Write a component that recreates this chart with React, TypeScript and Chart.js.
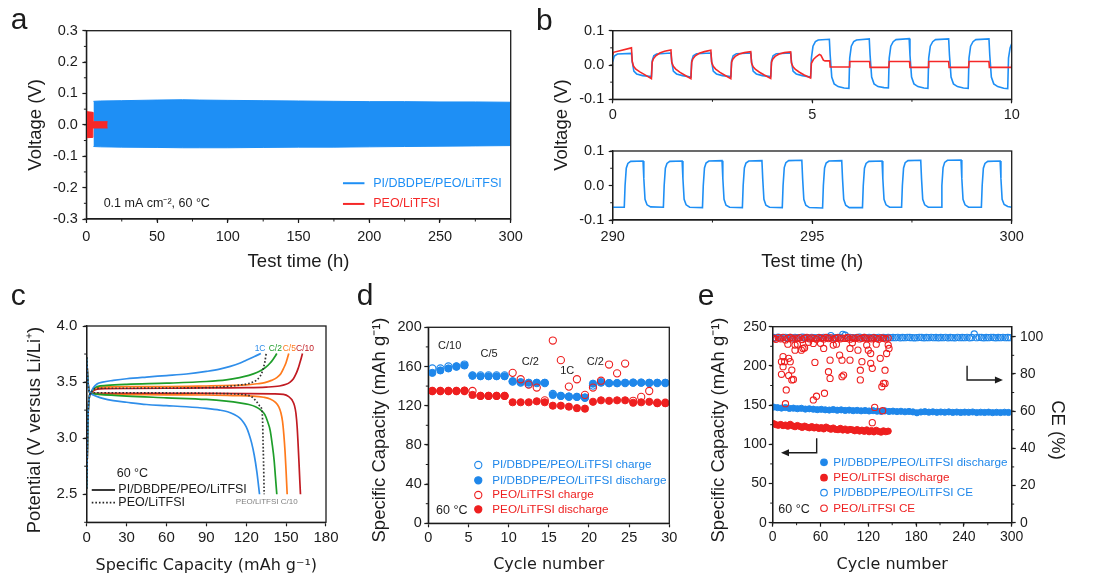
import { useEffect, useRef } from 'react';
import { Chart, registerables } from 'chart.js';

Chart.register(...registerables);

const W = 1093;
const H = 585;
const SANS = '"Liberation Sans", Arial, Helvetica, sans-serif';
const WIDE = '"DejaVu Sans", Verdana, sans-serif';
const INK = '#1c1c1c';
const BLUE = '#1E8FF5';
const RED = '#F52828';
const C_BLUE = '#2F8EEA';
const C_GREEN = '#1E9E2A';
const C_ORANGE = '#FF7A1C';
const C_DARKRED = '#C11B22';
const M_BLUE = '#1F87EA';
const M_RED = '#EE1F1F';

// ================= Panel a: voltage envelope (V) vs test time (h) =================
const aPiTime = [5, 10, 25, 50, 68, 80, 100, 125, 150, 175, 200, 225, 250, 275, 300];
const aPiUpper = [0.075, 0.076, 0.077, 0.079, 0.080, 0.079, 0.078, 0.077, 0.076, 0.075, 0.074, 0.074, 0.073, 0.073, 0.072];
const aPiLower = [-0.069, -0.070, -0.071, -0.072, -0.073, -0.073, -0.073, -0.072, -0.071, -0.071, -0.070, -0.069, -0.068, -0.067, -0.066];
const aPeoTime = [0, 0.3, 4.5, 4.6, 15];
const aPeoUpper = [0.040, 0.042, 0.040, 0.010, 0.010];
const aPeoLower = [-0.040, -0.041, -0.040, -0.010, -0.010];

// ================= Panel b (top): 0-10 h =================
const bTopPiT = [
  0, 0.04, 0.12, 0.47, 0.49, 0.53, 0.6, 0.75, 0.97,
  0.99, 1.03, 1.1, 1.46, 1.48, 1.52, 1.6, 1.75, 1.96,
  1.98, 2.02, 2.1, 2.46, 2.48, 2.52, 2.6, 2.75, 2.96,
  2.98, 3.02, 3.1, 3.46, 3.48, 3.52, 3.6, 3.75, 3.96,
  3.98, 4.02, 4.1, 4.46, 4.48, 4.52, 4.6, 4.75, 4.96,
  4.98, 5.02, 5.08, 5.15, 5.43, 5.45, 5.49, 5.55, 5.65, 5.8, 5.92,
  5.94, 5.98, 6.04, 6.11, 6.43, 6.45, 6.49, 6.55, 6.65, 6.8, 6.91,
  6.93, 6.97, 7.03, 7.1, 7.43, 7.45, 7.49, 7.55, 7.65, 7.8, 7.9,
  7.92, 7.96, 8.02, 8.09, 8.42, 8.44, 8.48, 8.54, 8.64, 8.79, 8.91,
  8.93, 8.97, 9.03, 9.1, 9.43, 9.45, 9.49, 9.55, 9.65, 9.8, 9.9,
  9.92, 9.96, 10,
];
const bTopPiV = [
  0.010, 0.026, 0.032, 0.034, 0.010, -0.018, -0.026, -0.031, -0.034,
  0.012, 0.027, 0.032, 0.035, 0.010, -0.018, -0.026, -0.031, -0.035,
  0.012, 0.027, 0.033, 0.035, 0.010, -0.018, -0.026, -0.031, -0.034,
  0.012, 0.027, 0.033, 0.035, 0.010, -0.018, -0.026, -0.031, -0.034,
  0.012, 0.027, 0.033, 0.035, 0.010, -0.018, -0.026, -0.031, -0.035,
  0.020, 0.055, 0.068, 0.073, 0.075, 0.030, -0.035, -0.055, -0.063, -0.067, -0.068,
  0.020, 0.055, 0.068, 0.073, 0.076, 0.030, -0.035, -0.055, -0.063, -0.066, -0.067,
  0.020, 0.055, 0.068, 0.074, 0.077, 0.030, -0.035, -0.055, -0.063, -0.067, -0.068,
  0.020, 0.055, 0.068, 0.074, 0.076, 0.030, -0.035, -0.055, -0.063, -0.067, -0.068,
  0.020, 0.055, 0.068, 0.074, 0.076, 0.030, -0.035, -0.055, -0.063, -0.068, -0.069,
  0.020, 0.050, 0.062,
];
const bTopPeoT = [
  0, 0.02, 0.47, 0.49, 0.52, 0.58, 0.68, 0.8, 0.97,
  0.99, 1.02, 1.08, 1.18, 1.3, 1.46, 1.48, 1.52, 1.58, 1.68, 1.8, 1.96,
  1.98, 2.01, 2.07, 2.17, 2.3, 2.46, 2.48, 2.52, 2.58, 2.68, 2.8, 2.96,
  2.98, 3.01, 3.07, 3.17, 3.3, 3.46, 3.48, 3.52, 3.58, 3.68, 3.8, 3.96,
  3.98, 4.01, 4.07, 4.17, 4.3, 4.46, 4.48, 4.52, 4.58, 4.68, 4.8, 4.96,
  4.98, 5.03, 5.1, 5.18, 5.22, 5.28, 5.32, 5.44, 5.45, 5.93, 5.94, 6.44, 6.45, 6.92,
  6.93, 7.44, 7.45, 7.91, 7.92, 8.42, 8.43, 8.92, 8.93, 9.43, 9.44, 9.99, 10,
];
const bTopPeoV = [
  0.030, 0.037, 0.050, 0.010, -0.003, -0.012, -0.020, -0.028, -0.040,
  0.008, 0.018, 0.027, 0.035, 0.040, 0.044, 0.008, -0.004, -0.012, -0.021, -0.029, -0.040,
  0.008, 0.018, 0.027, 0.034, 0.039, 0.043, 0.008, -0.004, -0.012, -0.021, -0.029, -0.040,
  0.008, 0.017, 0.025, 0.032, 0.036, 0.039, 0.006, -0.005, -0.013, -0.021, -0.029, -0.039,
  0.008, 0.017, 0.025, 0.032, 0.036, 0.038, 0.006, -0.005, -0.013, -0.021, -0.029, -0.038,
  0.005, 0.016, 0.024, 0.031, 0.028, 0.014, 0.012, 0.012, -0.006, -0.006, 0.010, 0.010, -0.007, -0.007,
  0.010, 0.010, -0.007, -0.007, 0.010, 0.010, -0.007, -0.007, 0.010, 0.010, -0.007, -0.007, 0.002,
];

// ================= Panel b (bottom): 290-300 h =================
const bBotPiT = [
  290, 290.29, 290.31, 290.34, 290.38, 290.45, 290.76, 290.78, 290.81, 290.86, 290.95,
  291.27, 291.29, 291.32, 291.36, 291.43, 291.74, 291.76, 291.79, 291.84, 291.93,
  292.25, 292.27, 292.30, 292.34, 292.41, 292.74, 292.76, 292.79, 292.84, 292.93,
  293.25, 293.27, 293.30, 293.34, 293.41, 293.74, 293.76, 293.79, 293.84, 293.93,
  294.25, 294.27, 294.30, 294.34, 294.41, 294.74, 294.76, 294.79, 294.84, 294.93,
  295.26, 295.28, 295.31, 295.35, 295.42, 295.74, 295.76, 295.79, 295.84, 295.93,
  296.26, 296.28, 296.31, 296.35, 296.42, 296.75, 296.77, 296.80, 296.85, 296.94,
  297.24, 297.26, 297.29, 297.33, 297.40, 297.72, 297.74, 297.77, 297.82, 297.91,
  298.23, 298.25, 298.28, 298.32, 298.39, 298.73, 298.75, 298.78, 298.83, 298.92,
  299.24, 299.26, 299.29, 299.33, 299.40, 299.71, 299.73, 299.76, 299.81, 299.90,
  300,
];
const bBotPiV = [
  -0.063, -0.063, 0.000, 0.050, 0.064, 0.070, 0.071, 0.020, -0.040, -0.056, -0.062,
  -0.063, 0.000, 0.050, 0.064, 0.070, 0.071, 0.020, -0.040, -0.056, -0.063,
  -0.064, 0.000, 0.051, 0.065, 0.071, 0.072, 0.020, -0.040, -0.057, -0.063,
  -0.064, 0.000, 0.051, 0.065, 0.071, 0.072, 0.020, -0.040, -0.057, -0.063,
  -0.064, 0.000, 0.052, 0.066, 0.072, 0.073, 0.020, -0.040, -0.057, -0.064,
  -0.065, 0.000, 0.051, 0.065, 0.071, 0.072, 0.020, -0.040, -0.057, -0.064,
  -0.064, 0.000, 0.050, 0.064, 0.070, 0.071, 0.020, -0.040, -0.056, -0.063,
  -0.063, 0.000, 0.051, 0.066, 0.072, 0.073, 0.020, -0.040, -0.056, -0.063,
  -0.063, 0.000, 0.052, 0.067, 0.073, 0.074, 0.020, -0.040, -0.056, -0.063,
  -0.063, 0.000, 0.050, 0.064, 0.070, 0.071, 0.020, -0.040, -0.055, -0.061,
  -0.063,
];

// ================= Panel c: voltage profiles (capacity mAh/g, potential V) =================
const c1CChgCap = [0, 0.5, 1, 2, 3, 5, 8, 12, 20, 30, 45, 60, 75, 90, 100, 108, 115, 120, 125, 128, 131];
const c1CChgV = [2.55, 2.9, 3.2, 3.37, 3.40, 3.45, 3.485, 3.50, 3.515, 3.53, 3.545, 3.558, 3.572, 3.595, 3.615, 3.64, 3.668, 3.695, 3.722, 3.738, 3.755];
const c1CDisCap = [0, 0.7, 1.5, 3, 5, 8, 12, 20, 30, 45, 60, 75, 90, 100, 106, 111, 115, 118, 120, 122, 124, 126, 128, 130];
const c1CDisV = [3.72, 3.55, 3.44, 3.40, 3.385, 3.37, 3.355, 3.335, 3.32, 3.30, 3.29, 3.28, 3.265, 3.25, 3.235, 3.21, 3.18, 3.14, 3.10, 3.04, 2.96, 2.85, 2.70, 2.50];
const cC2ChgCap = [0, 0.5, 1, 2, 3, 5, 8, 15, 30, 60, 90, 105, 115, 122, 128, 132, 135, 138, 140, 142, 143];
const cC2ChgV = [2.55, 2.9, 3.2, 3.37, 3.40, 3.44, 3.46, 3.47, 3.48, 3.49, 3.505, 3.52, 3.54, 3.56, 3.585, 3.61, 3.635, 3.67, 3.70, 3.735, 3.755];
const cC2DisCap = [0, 0.7, 1.5, 3, 6, 10, 30, 60, 90, 105, 115, 122, 127, 131, 134, 136, 138, 139.5, 141, 142, 143];
const cC2DisV = [3.72, 3.55, 3.44, 3.40, 3.395, 3.39, 3.375, 3.36, 3.345, 3.33, 3.315, 3.30, 3.28, 3.25, 3.21, 3.15, 3.07, 2.95, 2.80, 2.65, 2.50];
const cC5ChgCap = [0, 0.5, 1, 2, 3, 6, 10, 30, 60, 90, 110, 120, 128, 134, 139, 143, 146, 148, 150, 151, 152];
const cC5ChgV = [2.55, 2.9, 3.2, 3.37, 3.40, 3.44, 3.455, 3.46, 3.46, 3.465, 3.47, 3.475, 3.485, 3.495, 3.515, 3.54, 3.575, 3.62, 3.675, 3.715, 3.755];
const cC5DisCap = [0, 0.7, 1.5, 3, 6, 10, 30, 60, 90, 110, 125, 133, 138, 142, 144.5, 146, 147.3, 148.3, 149.2, 150, 150.8];
const cC5DisV = [3.72, 3.55, 3.44, 3.40, 3.395, 3.39, 3.388, 3.386, 3.385, 3.38, 3.375, 3.365, 3.35, 3.32, 3.28, 3.23, 3.15, 3.03, 2.88, 2.70, 2.50];
const cC10ChgCap = [0, 0.5, 1, 2, 3, 6, 10, 30, 60, 90, 120, 135, 145, 150, 153, 155.5, 157.5, 159, 160.3, 161.4, 162.3];
const cC10ChgV = [2.55, 2.9, 3.2, 3.37, 3.40, 3.43, 3.44, 3.443, 3.445, 3.448, 3.45, 3.455, 3.465, 3.48, 3.50, 3.53, 3.575, 3.62, 3.67, 3.715, 3.755];
const cC10DisCap = [0, 0.7, 1.5, 3, 6, 30, 60, 90, 120, 140, 148, 152, 154.5, 156.3, 157.4, 158.3, 159, 159.7, 160.3, 160.8];
const cC10DisV = [3.72, 3.55, 3.44, 3.40, 3.40, 3.40, 3.40, 3.40, 3.398, 3.395, 3.39, 3.37, 3.34, 3.29, 3.22, 3.10, 2.95, 2.78, 2.62, 2.50];
const cPeoChgCap = [0, 0.5, 1, 2, 3, 6, 10, 30, 60, 90, 105, 115, 121, 125, 128, 130.3, 132, 133, 134, 135];
const cPeoChgV = [2.55, 2.9, 3.2, 3.37, 3.40, 3.44, 3.445, 3.445, 3.447, 3.45, 3.46, 3.474, 3.485, 3.50, 3.52, 3.55, 3.59, 3.63, 3.68, 3.755];
const cPeoDisCap = [0, 0.7, 1.5, 3, 6, 30, 60, 90, 110, 120, 124, 127.8, 130, 131.6, 132.3, 132.6, 133, 133.5];
const cPeoDisV = [3.72, 3.55, 3.44, 3.40, 3.405, 3.405, 3.403, 3.40, 3.395, 3.385, 3.37, 3.325, 3.29, 3.26, 3.16, 3.0, 2.8, 2.5];

// ================= Panel d: rate capability =================
const dCycle = [0.5, 1.5, 2.5, 3.5, 4.5, 5.5, 6.5, 7.5, 8.5, 9.5, 10.5, 11.5, 12.5, 13.5, 14.5, 15.5, 16.5, 17.5, 18.5, 19.5, 20.5, 21.5, 22.5, 23.5, 24.5, 25.5, 26.5, 27.5, 28.5, 29.5];
const dPiCharge = [158, 158, 160, 160, 162, 151, 151, 151, 151, 151, 144.5, 143.5, 142, 143, 143, 132, 130, 129, 129, 128, 140.5, 144, 143, 143, 143, 143.5, 143.5, 143, 143, 143];
const dPiDischarge = [153.5, 156, 158, 160, 161, 150.5, 150, 150, 150, 150, 145, 144, 143.5, 143.5, 143.5, 131, 130, 129.5, 129, 128.5, 142.5, 143.5, 143, 143, 143.5, 143.5, 143.5, 143.5, 143.5, 143.5];
const dPeoCharge = [135, 135, 135, 135, 135, 135, 130, 130, 130, 130, 153.5, 147, 141.5, 138.5, 125.5, 186.5, 166.5, 139.5, 147, 131, 138.5, 145.5, 162, 153, 163, 125, 129, 135, 123, 123];
const dPeoDischarge = [135, 135, 135, 135, 135.5, 131, 130, 130, 130, 130, 123.5, 123.5, 123.5, 124.5, 123.5, 120, 120, 119, 117.5, 117, 124, 125.5, 125, 125.5, 125.5, 123, 123.5, 124, 122.5, 122.5];

// ================= Panel e: long cycling =================
const eCycle5 = [1, 6, 11, 16, 21, 26, 31, 36, 41, 46, 51, 56, 61, 66, 71, 76, 81, 86, 91, 96, 101, 106, 111, 116, 121, 126, 131, 136, 141, 146, 151, 156, 161, 166, 171, 176, 181, 186, 191, 196, 201, 206, 211, 216, 221, 226, 231, 236, 241, 246, 251, 256, 261, 266, 271, 276, 281, 286, 291, 296];
const ePiDischarge = [
  147.5, 146.8, 146.2, 146.9, 145.8, 146.1, 145.4, 145.9, 144.9, 145.3,
  144.8, 144.2, 144.6, 144.0, 143.7, 144.3, 143.5, 143.9, 143.2, 143.6,
  142.9, 143.3, 142.7, 143.1, 142.5, 142.9, 142.3, 142.0, 142.6, 141.9,
  142.3, 141.7, 142.1, 141.5, 141.9, 141.3, 140.2, 141.2, 141.6, 141.0,
  141.4, 140.8, 141.2, 140.9, 141.3, 140.7, 141.1, 140.6, 141.0, 140.8,
  141.2, 140.5, 140.9, 140.6, 141.0, 140.4, 140.8, 140.5, 140.9, 140.6,
];
const eCycleCe = [
  1, 4, 7, 10, 13, 16, 19, 22, 25, 28,
  31, 34, 37, 40, 43, 46, 49, 52, 55, 58,
  61, 64, 67, 70, 73, 76, 79, 82, 85, 88,
  91, 94, 97, 100, 103, 106, 109, 112, 115, 118,
  121, 124, 127, 130, 133, 136, 139, 142, 145, 148,
  151, 154, 157, 160, 163, 166, 169, 172, 175, 178,
  181, 184, 187, 190, 193, 196, 199, 202, 205, 208,
  211, 214, 217, 220, 223, 226, 229, 232, 235, 238,
  241, 244, 247, 250, 253, 256, 259, 262, 265, 268,
  271, 274, 277, 280, 283, 286, 289, 292, 295, 298,
];
const ePiCe = [
  99.6, 99.3, 99.8, 99.5, 99.4, 99.7, 99.5, 99.6, 99.3, 99.7,
  99.5, 99.4, 99.8, 99.6, 99.5, 99.3, 99.7, 99.5, 99.4, 99.6,
  99.4, 99.7, 99.5, 99.6, 100.6, 99.4, 99.5, 99.7, 99.6, 101.3,
  100.8, 99.5, 99.7, 99.5, 99.4, 99.6, 99.8, 99.5, 99.6, 99.4,
  99.7, 99.5, 99.6, 99.4, 99.7, 99.5, 99.6, 99.5, 99.7, 99.5,
  99.6, 99.5, 99.7, 99.4, 99.6, 99.5, 99.7, 99.6, 99.5, 99.4,
  99.5, 99.7, 99.6, 99.4, 99.6, 99.5, 99.7, 99.5, 99.6, 99.4,
  99.6, 99.5, 99.7, 99.4, 99.6, 99.5, 99.4, 99.7, 99.5, 99.6,
  99.5, 99.7, 99.4, 99.6, 101.5, 99.5, 99.7, 99.6, 99.4, 99.6,
  99.5, 99.7, 99.6, 99.4, 99.6, 99.5, 99.7, 99.5, 99.6, 99.5,
];
const eCycle3 = [1, 4, 7, 10, 13, 16, 19, 22, 25, 28, 31, 34, 37, 40, 43, 46, 49, 52, 55, 58, 61, 64, 67, 70, 73, 76, 79, 82, 85, 88, 91, 94, 97, 100, 103, 106, 109, 112, 115, 118, 121, 124, 127, 130, 133, 136, 139, 142, 145];
const ePeoDischarge = [
  126.5, 125.0, 124.2, 125.3, 123.8, 124.6, 123.1, 125.5, 123.5, 122.4,
  124.0, 122.8, 121.5, 123.2, 122.0, 121.0, 122.6, 120.8, 121.9, 120.2,
  121.4, 119.6, 122.0, 120.5, 119.2, 120.8, 119.0, 118.6, 120.3, 118.2,
  119.5, 117.8, 119.0, 118.5, 117.2, 118.8, 116.9, 118.1, 116.5, 118.4,
  116.0, 117.6, 115.8, 117.9, 116.4, 115.5, 117.2, 116.0, 116.8,
];
const ePeoCeBand = [
  99.2, 98.6, 99.5, 98.9, 99.7, 98.3, 99.1, 99.6, 98.8, 99.3,
  99.0, 99.5, 98.5, 99.2, 99.7, 98.9, 99.4, 99.1, 98.7, 99.5,
  99.3, 98.8, 99.6, 99.0, 99.4, 98.6, 99.2, 99.5, 98.9, 99.3,
  99.1, 99.6, 98.7, 99.4, 99.0, 99.5, 98.8, 99.2, 99.6, 99.0,
  99.3, 98.9, 99.5, 99.1, 98.7, 99.4, 99.2, 98.8, 99.3,
];
const ePeoCeScatterCycle = [11, 11, 13, 13, 15, 16, 17, 19, 20, 20, 22, 24, 24, 26, 28, 28, 31, 36, 38, 40, 45, 51, 51, 53, 55, 60, 64, 65, 70, 72, 72, 76, 80, 84, 87, 87, 89, 97, 97, 100, 107, 110, 110, 112, 118, 120, 123, 123, 125, 125, 128, 130, 135, 137, 138, 139, 141, 141, 143, 145, 146];
const ePeoCeScatter = [86.6, 79.8, 89.3, 83.9, 86.6, 64.0, 71.4, 96.0, 88.4, 79.1, 86.6, 82.1, 76.8, 77.0, 95.5, 92.8, 96.0, 92.8, 93.7, 94.0, 97.0, 96.4, 66.0, 86.2, 68.0, 96.5, 93.7, 69.6, 81.2, 87.4, 77.6, 95.5, 96.0, 90.1, 87.4, 78.5, 79.4, 87.4, 93.7, 96.8, 92.8, 82.0, 76.8, 86.6, 95.5, 92.8, 85.7, 91.0, 83.0, 53.8, 62.0, 96.0, 88.4, 73.1, 60.2, 74.9, 82.0, 74.9, 91.0, 95.5, 93.7];

// ================= helpers =================
const pts = (xs: number[], ys: number[]) => xs.map((x, i) => ({ x, y: ys[i] }));
const fmt = (v: number, d: number) => (Math.abs(v) < 1e-9 ? 0 : v).toFixed(d);

type AxisOpt = { pos: 'left' | 'right' | 'bottom'; min: number; max: number; step: number; size: number; pad: number; fit: number; dec: number };
function axis(o: AxisOpt) {
  return {
    type: 'linear',
    position: o.pos,
    min: o.min,
    max: o.max,
    afterFit: (s: any) => {
      if (o.pos === 'bottom') s.height = o.fit;
      else s.width = o.fit;
    },
    ticks: {
      stepSize: o.step,
      autoSkip: false,
      maxRotation: 0,
      minRotation: 0,
      includeBounds: false,
      padding: o.pad,
      color: INK,
      font: { family: SANS, size: o.size },
      callback: (v: any) => fmt(Number(v), o.dec),
    },
    grid: { drawOnChartArea: false, drawTicks: true, tickLength: 4, tickColor: INK, tickWidth: 1.2 },
    border: { display: true, color: INK, width: 1.3 },
    title: { display: false },
  };
}

function baseOptions(top: number, right: number) {
  return {
    responsive: false,
    animation: false,
    events: [],
    layout: { padding: { left: 0, top, right, bottom: 0 } },
    plugins: { legend: { display: false }, tooltip: { enabled: false } },
  };
}

function decor(draw: (ch: any, ctx: CanvasRenderingContext2D) => void) {
  return {
    id: 'decor',
    afterDraw(ch: any) {
      const ctx = ch.ctx as CanvasRenderingContext2D;
      ctx.save();
      draw(ch, ctx);
      ctx.restore();
    },
  };
}

type TO = { size?: number; color?: string; align?: CanvasTextAlign; family?: string; baseline?: CanvasTextBaseline; weight?: string };
function text(ctx: CanvasRenderingContext2D, s: string, x: number, y: number, o: TO = {}) {
  ctx.save();
  ctx.font = `${o.weight || 'normal'} ${o.size || 12}px ${o.family || SANS}`;
  ctx.fillStyle = o.color || INK;
  ctx.textAlign = o.align || 'left';
  ctx.textBaseline = o.baseline || 'middle';
  ctx.fillText(s, x, y);
  ctx.restore();
}
function vtext(ctx: CanvasRenderingContext2D, s: string, x: number, y: number, size: number, rot = -Math.PI / 2, family = SANS) {
  ctx.save();
  ctx.translate(x, y);
  ctx.rotate(rot);
  text(ctx, s, 0, 0, { size, align: 'center', family });
  ctx.restore();
}
function px(ch: any, x: number, y: number, yId = 'y'): [number, number] {
  return [ch.scales.x.getPixelForValue(x), ch.scales[yId].getPixelForValue(y)];
}
function frame(ch: any) {
  const ctx = ch.ctx as CanvasRenderingContext2D;
  const a = ch.chartArea;
  ctx.save();
  ctx.strokeStyle = INK;
  ctx.lineWidth = 1.3;
  ctx.strokeRect(a.left, a.top, a.right - a.left, a.bottom - a.top);
  ctx.restore();
}
function minorTicks(ch: any, id: string, step: number, len = 2.5) {
  const s = ch.scales[id];
  const a = ch.chartArea;
  const ctx = ch.ctx as CanvasRenderingContext2D;
  ctx.save();
  ctx.strokeStyle = INK;
  ctx.lineWidth = 1;
  ctx.beginPath();
  const start = Math.ceil(s.min / step - 1e-6) * step;
  for (let k = 0; k < 1000; k++) {
    const v = start + k * step;
    if (v > s.max + 1e-9) break;
    const p = s.getPixelForValue(v);
    if (s.isHorizontal()) {
      ctx.moveTo(p, a.bottom);
      ctx.lineTo(p, a.bottom + len);
    } else if (s.position === 'right') {
      ctx.moveTo(a.right, p);
      ctx.lineTo(a.right + len, p);
    } else {
      ctx.moveTo(a.left - len, p);
      ctx.lineTo(a.left, p);
    }
  }
  ctx.stroke();
  ctx.restore();
}
function hline(ctx: CanvasRenderingContext2D, x1: number, x2: number, y: number, color: string, w: number, dash: number[] = []) {
  ctx.save();
  ctx.strokeStyle = color;
  ctx.lineWidth = w;
  ctx.setLineDash(dash);
  ctx.beginPath();
  ctx.moveTo(x1, y);
  ctx.lineTo(x2, y);
  ctx.stroke();
  ctx.restore();
}
function marker(ctx: CanvasRenderingContext2D, x: number, y: number, r: number, color: string, filled: boolean) {
  ctx.save();
  ctx.beginPath();
  ctx.arc(x, y, r, 0, Math.PI * 2);
  if (filled) {
    ctx.fillStyle = color;
    ctx.fill();
  }
  ctx.strokeStyle = color;
  ctx.lineWidth = 1.1;
  ctx.stroke();
  ctx.restore();
}
function arrowPath(ctx: CanvasRenderingContext2D, p: [number, number][], dir: 1 | -1) {
  ctx.save();
  ctx.strokeStyle = INK;
  ctx.fillStyle = INK;
  ctx.lineWidth = 1.4;
  ctx.beginPath();
  ctx.moveTo(p[0][0], p[0][1]);
  for (let i = 1; i < p.length; i++) ctx.lineTo(p[i][0] - (i === p.length - 1 ? dir * 4 : 0), p[i][1]);
  ctx.stroke();
  const [ex, ey] = p[p.length - 1];
  ctx.beginPath();
  ctx.moveTo(ex, ey);
  ctx.lineTo(ex - dir * 8, ey - 3.5);
  ctx.lineTo(ex - dir * 8, ey + 3.5);
  ctx.closePath();
  ctx.fill();
  ctx.restore();
}
function lineSet(xs: number[], ys: number[], color: string, width: number, order = 1, extra: any = {}) {
  return { data: pts(xs, ys), borderColor: color, backgroundColor: color, borderWidth: width, pointRadius: 0, fill: false, order, tension: 0, ...extra };
}

// ================= chart configs =================
function configA() {
  return {
    type: 'line',
    data: {
      datasets: [
        lineSet(aPiTime, aPiUpper, BLUE, 1, 2, { fill: '+1' }),
        lineSet(aPiTime, aPiLower, BLUE, 1, 2),
        lineSet(aPeoTime, aPeoUpper, RED, 1, 1, { fill: '+1' }),
        lineSet(aPeoTime, aPeoLower, RED, 1, 1),
      ],
    },
    options: {
      ...baseOptions(30.7, W - 510.7),
      scales: {
        x: axis({ pos: 'bottom', min: 0, max: 300, step: 50, size: 14.5, pad: 5.3, fit: H - 219, dec: 0 }),
        y: axis({ pos: 'left', min: -0.3, max: 0.3, step: 0.1, size: 14.5, pad: 4.5, fit: 86.4, dec: 1 }),
      },
    },
    plugins: [
      decor((ch, ctx) => {
        minorTicks(ch, 'x', 25);
        minorTicks(ch, 'y', 0.05);
        frame(ch);
        vtext(ctx, 'Voltage (V)', 35.7, 124.9, 18.5);
        text(ctx, 'Test time (h)', 298.5, 262, { size: 18.5, align: 'center' });
        const [x1, y1] = px(ch, 181.4, -0.186);
        const [x2, y2] = px(ch, 196.6, -0.252);
        const [tx] = px(ch, 202.8, 0);
        hline(ctx, x1, x2, y1, BLUE, 2);
        text(ctx, 'PI/DBDPE/PEO/LiTFSI', tx, y1, { size: 12.5, color: BLUE });
        hline(ctx, x1, x2, y2, RED, 2);
        text(ctx, 'PEO/LiTFSI', tx, y2, { size: 12.5, color: RED });
        const [nx, ny] = px(ch, 12.2, -0.25);
        text(ctx, '0.1 mA cm\u207B\u00B2, 60 \u00B0C', nx, ny, { size: 12.5 });
        // panel letters
        text(ctx, 'a', 10.7, 29.3, { size: 30, baseline: 'alphabetic' });
        text(ctx, 'b', 536, 30, { size: 30, baseline: 'alphabetic' });
        text(ctx, 'c', 10.7, 305, { size: 30, baseline: 'alphabetic' });
        text(ctx, 'd', 356.7, 305, { size: 30, baseline: 'alphabetic' });
        text(ctx, 'e', 697.8, 305, { size: 30, baseline: 'alphabetic' });
      }),
    ],
  };
}

function configBTop() {
  return {
    type: 'line',
    data: {
      datasets: [lineSet(bTopPiT, bTopPiV, BLUE, 1.6, 2), lineSet(bTopPeoT, bTopPeoV, RED, 1.6, 1)],
    },
    options: {
      ...baseOptions(30.7, W - 1011.7),
      scales: {
        x: axis({ pos: 'bottom', min: 0, max: 10, step: 5, size: 14.5, pad: 3, fit: H - 99.3, dec: 0 }),
        y: axis({ pos: 'left', min: -0.1, max: 0.1, step: 0.1, size: 14.5, pad: 4.5, fit: 612.7, dec: 1 }),
      },
    },
    plugins: [
      decor((ch, ctx) => {
        minorTicks(ch, 'x', 2.5);
        minorTicks(ch, 'y', 0.05);
        frame(ch);
        vtext(ctx, 'Voltage (V)', 561.7, 125, 18.5);
      }),
    ],
  };
}

function configBBot() {
  return {
    type: 'line',
    data: { datasets: [lineSet(bBotPiT, bBotPiV, BLUE, 1.6, 1)] },
    options: {
      ...baseOptions(151, W - 1011.7),
      scales: {
        x: axis({ pos: 'bottom', min: 290, max: 300, step: 5, size: 14.5, pad: 4.6, fit: H - 220, dec: 0 }),
        y: axis({ pos: 'left', min: -0.1, max: 0.1, step: 0.1, size: 14.5, pad: 4.5, fit: 612.7, dec: 1 }),
      },
    },
    plugins: [
      decor((ch, ctx) => {
        minorTicks(ch, 'x', 2.5);
        minorTicks(ch, 'y', 0.05);
        frame(ch);
        text(ctx, 'Test time (h)', 812.2, 261.5, { size: 18.5, align: 'center' });
      }),
    ],
  };
}

function configC() {
  const mono = { cubicInterpolationMode: 'monotone' };
  return {
    type: 'line',
    data: {
      datasets: [
        lineSet(c1CChgCap, c1CChgV, C_BLUE, 1.7, 2, mono),
        lineSet(c1CDisCap, c1CDisV, C_BLUE, 1.7, 2, mono),
        lineSet(cC2ChgCap, cC2ChgV, C_GREEN, 1.7, 2, mono),
        lineSet(cC2DisCap, cC2DisV, C_GREEN, 1.7, 2, mono),
        lineSet(cC5ChgCap, cC5ChgV, C_ORANGE, 1.7, 2, mono),
        lineSet(cC5DisCap, cC5DisV, C_ORANGE, 1.7, 2, mono),
        lineSet(cC10ChgCap, cC10ChgV, C_DARKRED, 1.7, 2, mono),
        lineSet(cC10DisCap, cC10DisV, C_DARKRED, 1.7, 2, mono),
        lineSet(cPeoChgCap, cPeoChgV, '#333333', 1.7, 1, { ...mono, borderDash: [1.6, 2] }),
        lineSet(cPeoDisCap, cPeoDisV, '#333333', 1.7, 1, { ...mono, borderDash: [1.6, 2] }),
      ],
    },
    options: {
      ...baseOptions(326, W - 326),
      scales: {
        x: axis({ pos: 'bottom', min: 0, max: 180, step: 30, size: 15, pad: 3, fit: H - 522.3, dec: 0 }),
        y: axis({ pos: 'left', min: 2.25, max: 4.0, step: 0.5, size: 15, pad: 5.4, fit: 86.7, dec: 1 }),
      },
    },
    plugins: [
      decor((ch, ctx) => {
        minorTicks(ch, 'y', 0.25);
        frame(ch);
        vtext(ctx, 'Potential (V versus Li/Li\u207A)', 35, 430, 18.5);
        text(ctx, 'Specific Capacity (mAh g\u207B\u00B9)', 206.3, 565.7, { size: 16, align: 'center', family: WIDE });
        const rl: [string, number, string][] = [
          ['1C', 130.4, C_BLUE],
          ['C/2', 141.9, C_GREEN],
          ['C/5', 152.4, C_ORANGE],
          ['C/10', 164.2, C_DARKRED],
        ];
        rl.forEach(([s, cap, col]) => {
          const [x, y] = px(ch, cap, 3.795);
          text(ctx, s, x, y, { size: 8.5, color: col, align: 'center' });
        });
        const [gx, gy] = px(ch, 135.4, 2.43);
        text(ctx, 'PEO/LiTFSI C/10', gx, gy, { size: 8, color: '#808080', align: 'center' });
        const [tx, ty] = px(ch, 22.6, 2.687);
        text(ctx, '60 \u00B0C', tx, ty, { size: 12.5 });
        const [l1, ly1] = px(ch, 3.8, 2.538);
        const [l2, ly2] = px(ch, 21.3, 2.425);
        const [lt] = px(ch, 23.8, 0);
        hline(ctx, l1, l2, ly1, '#222', 1.8);
        hline(ctx, l1, l2, ly2, '#222', 1.8, [1.6, 2]);
        text(ctx, 'PI/DBDPE/PEO/LiTFSI', lt, ly1, { size: 12.5 });
        text(ctx, 'PEO/LiTFSI', lt, ly2, { size: 12.5 });
      }),
    ],
  };
}

function scatterSet(xs: number[], ys: number[], color: string, filled: boolean, r: number, order: number, yAxisID = 'y') {
  return {
    data: pts(xs, ys),
    showLine: false,
    pointRadius: r,
    pointBorderWidth: filled ? 1 : 1.1,
    pointBackgroundColor: filled ? color : 'rgba(255,255,255,0)',
    pointBorderColor: color,
    borderColor: color,
    backgroundColor: color,
    order,
    yAxisID,
  };
}

function configD() {
  return {
    type: 'scatter',
    data: {
      datasets: [
        scatterSet(dCycle, dPiCharge, M_BLUE, false, 3.6, 4),
        scatterSet(dCycle, dPiDischarge, M_BLUE, true, 3.6, 2),
        scatterSet(dCycle, dPeoCharge, M_RED, false, 3.6, 1),
        scatterSet(dCycle, dPeoDischarge, M_RED, true, 3.6, 3),
      ],
    },
    options: {
      ...baseOptions(327.3, W - 669.3),
      scales: {
        x: axis({ pos: 'bottom', min: 0, max: 30, step: 5, size: 14.5, pad: 2.3, fit: H - 523.3, dec: 0 }),
        y: axis({ pos: 'left', min: 0, max: 200, step: 40, size: 14.5, pad: 2.6, fit: 428.3, dec: 0 }),
      },
    },
    plugins: [
      decor((ch, ctx) => {
        minorTicks(ch, 'y', 20);
        frame(ch);
        vtext(ctx, 'Specific Capacity (mAh g\u207B\u00B9)', 380, 430, 18.5);
        text(ctx, 'Cycle number', 548.8, 565, { size: 16, align: 'center', family: WIDE });
        const ann: [string, number, number][] = [
          ['C/10', 2.66, 180.9],
          ['C/5', 7.56, 172.4],
          ['C/2', 12.7, 164.9],
          ['1C', 17.3, 155.4],
          ['C/2', 20.8, 164.9],
        ];
        ann.forEach(([s, cx, cy]) => {
          const [x, y] = px(ch, cx, cy);
          text(ctx, s, x, y, { size: 11, align: 'center' });
        });
        const rows: [string, string, boolean, number][] = [
          ['PI/DBDPE/PEO/LiTFSI charge', M_BLUE, false, 59.5],
          ['PI/DBDPE/PEO/LiTFSI discharge', M_BLUE, true, 43.9],
          ['PEO/LiTFSI charge', M_RED, false, 28.9],
          ['PEO/LiTFSI discharge', M_RED, true, 14.3],
        ];
        rows.forEach(([s, col, filled, yv]) => {
          const [mx, my] = px(ch, 6.22, yv);
          const [tx] = px(ch, 7.97, yv);
          marker(ctx, mx, my, 3.6, col, filled);
          text(ctx, s, tx, my, { size: 11.7, color: col });
        });
        const [cx, cy] = px(ch, 0.96, 12.9);
        text(ctx, '60 \u00B0C', cx, cy, { size: 12.5 });
      }),
    ],
  };
}

function configE() {
  return {
    type: 'scatter',
    data: {
      datasets: [
        scatterSet(eCycle5, ePiDischarge, M_BLUE, true, 3.1, 4),
        scatterSet(eCycle3, ePeoDischarge, M_RED, true, 3.1, 3),
        scatterSet(eCycleCe, ePiCe, M_BLUE, false, 3.1, 2, 'y2'),
        {
          ...scatterSet(eCycle3, ePeoCeBand, M_RED, false, 3.1, 1, 'y2'),
          data: [...pts(eCycle3, ePeoCeBand), ...pts(ePeoCeScatterCycle, ePeoCeScatter)],
        },
      ],
    },
    options: {
      ...baseOptions(326.7, 25.2),
      scales: {
        x: axis({ pos: 'bottom', min: 0, max: 300, step: 60, size: 14, pad: 2.2, fit: H - 522.7, dec: 0 }),
        y: axis({ pos: 'left', min: 0, max: 250, step: 50, size: 14, pad: 2, fit: 772.7, dec: 0 }),
        y2: axis({ pos: 'right', min: 0, max: 105.4, step: 20, size: 14, pad: 4.3, fit: W - 25.2 - 1011.7, dec: 0 }),
      },
    },
    plugins: [
      decor((ch, ctx) => {
        minorTicks(ch, 'x', 30);
        minorTicks(ch, 'y', 25);
        minorTicks(ch, 'y2', 10);
        frame(ch);
        vtext(ctx, 'Specific Capacity (mAh g\u207B\u00B9)', 719, 430, 18.5);
        vtext(ctx, 'CE (%)', 1056.7, 430, 18.5, Math.PI / 2);
        text(ctx, 'Cycle number', 892.2, 565, { size: 16, align: 'center', family: WIDE });
        arrowPath(ctx, [px(ch, 55.2, 107.7), px(ch, 55.2, 89.3), px(ch, 10.4, 89.3)], -1);
        arrowPath(ctx, [px(ch, 244, 200.3), px(ch, 244, 182), px(ch, 289, 182)], 1);
        const rows: [string, string, boolean, number][] = [
          ['PI/DBDPE/PEO/LiTFSI discharge', M_BLUE, true, 77.0],
          ['PEO/LiTFSI discharge', M_RED, true, 57.4],
          ['PI/DBDPE/PEO/LiTFSI CE', M_BLUE, false, 38.3],
          ['PEO/LiTFSI CE', M_RED, false, 18.4],
        ];
        rows.forEach(([s, col, filled, yv]) => {
          const [mx, my] = px(ch, 64.4, yv);
          const [tx] = px(ch, 76.1, yv);
          marker(ctx, mx, my, 3.3, col, filled);
          text(ctx, s, tx, my, { size: 11.7, color: col });
        });
        const [cx, cy] = px(ch, 7.1, 17.1);
        text(ctx, '60 \u00B0C', cx, cy, { size: 12.5 });
      }),
    ],
  };
}

function ChartCanvas({ make }: { make: () => any }) {
  const ref = useRef<HTMLCanvasElement>(null);
  useEffect(() => {
    if (!ref.current) return;
    const chart = new Chart(ref.current, make());
    return () => chart.destroy();
  }, [make]);
  return (
    <canvas
      ref={ref}
      width={W}
      height={H}
      style={{ position: 'absolute', left: 0, top: 0, width: W, height: H, pointerEvents: 'none' }}
    />
  );
}

const MAKERS = [configA, configBTop, configBBot, configC, configD, configE];

export default function App() {
  Chart.defaults.font.family = SANS;
  Chart.defaults.color = INK;
  return (
    <div style={{ position: 'fixed', left: 0, top: 0, width: W, height: H, background: '#ffffff', overflow: 'hidden' }}>
      {MAKERS.map((m, i) => (
        <ChartCanvas key={i} make={m} />
      ))}
    </div>
  );
}
